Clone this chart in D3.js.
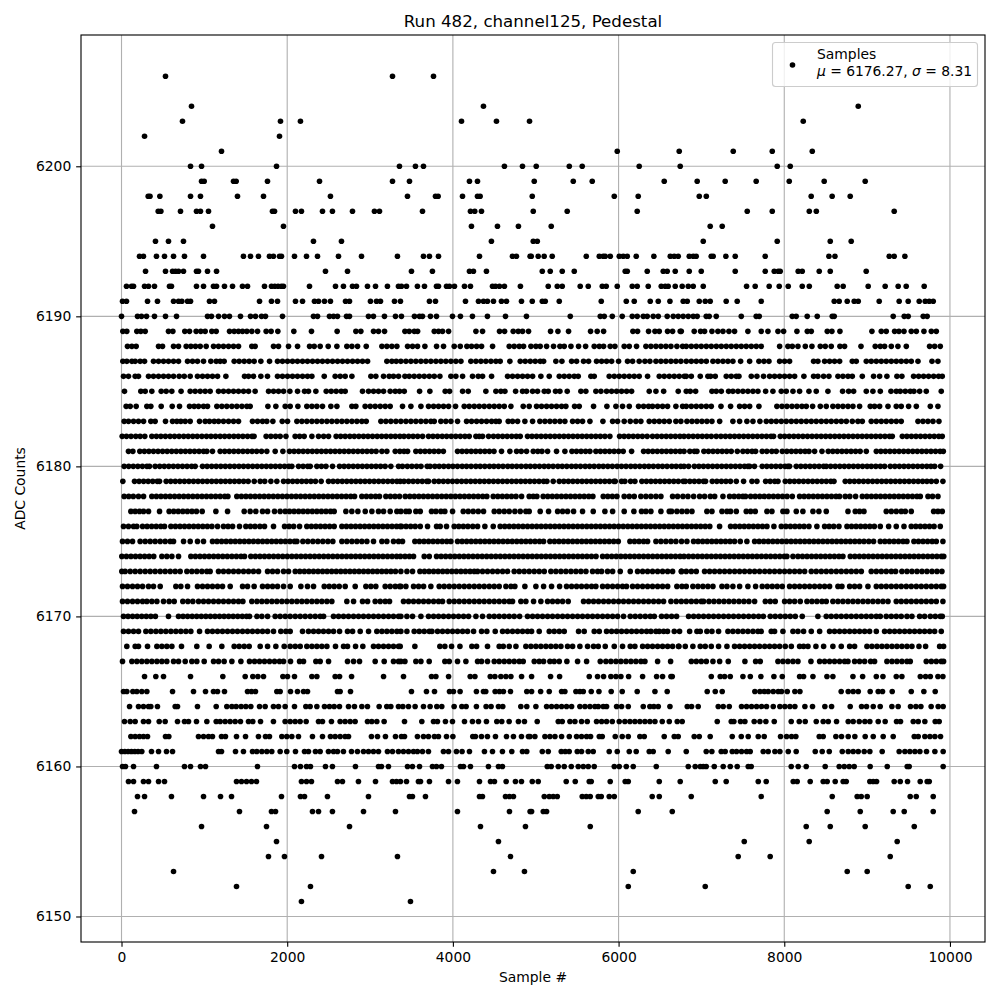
<!DOCTYPE html>
<html>
<head>
<meta charset="utf-8">
<title>Run 482, channel125, Pedestal</title>
<script src="https://cdn.jsdelivr.net/npm/d3@7"></script>
<style>
  body { margin: 0; background: #fff; }
  text { font-family: "DejaVu Sans", sans-serif; fill: #000; }
  .grid line { stroke: #b0b0b0; stroke-width: 1.11px; }
  .axis path { display: none; }
  .axis line { stroke: #000; stroke-width: 1.11px; }
  .axis text { font-size: 13.89px; font-family: "DejaVu Sans", sans-serif; fill: #000; }
</style>
</head>
<body>
<script>
/* CONSTANTS AND GLOBALS */
const width = 1000;
const height = 1000;
const margin = { top: 35, bottom: 58, left: 81, right: 15 };

const titleText = "Run 482, channel125, Pedestal";
const xLabel = "Sample #";
const yLabel = "ADC Counts";
const xTicks = [0, 2000, 4000, 6000, 8000, 10000];
const yTicks = [6150, 6160, 6170, 6180, 6190, 6200];

/* DATA - sample numbers, one list per ADC level */
const adc6206 = [531,3271,3766];
const adc6204 = [845,4369,8893];
const adc6203 = [736,1919,2160,4104,4526,4925,8229];
const adc6202 = [278,1907];
const adc6201 = [1207,5984,6732,7384,7855,8338];
const adc6200 = [833,966,1871,3355,3548,3645,4622,4840,5006,5405,5561,6249,6744,7915,8072];
const adc6199 = [966,998,1352,1384,1762,2390,3271,3476,4200,4297,4982,5453,5682,6551,6949,7287,7661,8060,8482,8977];
const adc6198 = [322,344,463,833,953,1400,1714,2522,3452,3790,3822,4116,4297,4329,4958,5948,6237,6974,7059,8325,8578,8796];
const adc6197 = [443,475,712,905,953,1050,1822,1847,2100,2172,2426,2546,2788,3053,3114,3633,4212,4264,4345,4970,5380,6225,7553,7855,8302,8387,9327];
const adc6196 = [1098,1955,4224,4538,4791,5187,7106,7251];
const adc6195 = [410,567,748,2317,2655,4465,4970,5019,7022,7915,8555,8808];
const adc6194 = [217,265,422,519,628,760,990,1472,1557,1653,1786,1834,1907,1931,2088,2233,2366,2619,2897,3331,3645,3717,3826,4321,4719,4767,4932,4946,5030,5102,5199,5610,5767,5815,5839,5900,6008,6056,6105,6213,6426,6624,6672,6720,6853,6901,6937,7118,7142,7295,7408,7770,8539,8612,9267,9327,9456];
const adc6193 = [290,531,616,652,688,748,905,929,1038,1147,2462,2728,3500,3753,4200,4248,4405,5079,5175,5320,5465,6080,6105,6346,6539,6587,6684,6853,6998,7408,7770,7879,7927,7951,8168,8217,8422,8555,8989];
const adc6192 = [60,121,145,278,326,398,579,603,905,990,1110,1147,1243,1340,1460,1521,1726,1810,1850,1890,1930,1955,2269,2583,2679,2788,2836,2969,3066,3210,3343,3379,3440,3572,3657,3802,3826,3923,3959,4019,4140,4212,4478,4514,4562,4622,4815,5151,5260,5320,5537,5634,5803,5851,5984,6165,6225,6358,6515,6563,6599,6684,6768,6841,6901,7022,7545,7649,7818,7939,8048,8217,8302,8639,8711,9013,9218,9375,9472,9689];
const adc6191 = [12,60,314,434,628,688,728,797,833,1062,1122,1666,1810,1883,2100,2185,2329,2378,2450,2522,2704,2752,3005,3078,3126,3295,3367,3717,3790,4152,4309,4369,4417,4490,4586,4647,4828,4958,5079,5115,5284,5791,6093,6189,6382,6479,6620,6780,6829,6974,7046,7106,7299,7432,7722,8603,8663,8760,8844,8893,9146,9387,9496,9629,9701,9750,9798];
const adc6190 = [0,193,241,302,398,531,664,1038,1086,1171,1243,1303,1436,1557,1617,1690,1738,1943,2317,2366,2510,2559,2607,2716,2752,2981,3041,3174,3307,3379,3536,3597,3633,3729,3802,3995,4091,4236,4417,4635,4888,5417,5779,5827,5924,6044,6165,6225,6298,6346,6418,6479,6587,6660,6720,6780,6841,6901,6949,7058,7094,7179,7481,7661,7698,8096,8144,8277,8398,8579,8603,9315,9448,9496,9677,9725];
const adc6189 = [16,64,185,233,286,567,620,764,821,901,957,1010,1090,1143,1304,1360,1412,1461,1513,1573,1642,1746,1806,1887,2080,2293,2603,2829,2889,3042,3102,3175,3421,3473,3534,3574,3775,3827,3875,3948,4278,4358,4563,4624,4728,4789,4841,4913,5179,5268,5396,5662,5742,5819,6173,6229,6362,6439,6491,6591,6652,6744,6757,6913,6990,7038,7127,7199,7260,7332,7400,7561,7722,7803,7924,7992,8153,8278,8326,8519,8575,8672,9058,9171,9231,9332,9384,9445,9533,9594,9686,9775,9835];
const adc6188 = [72,125,177,447,495,628,688,781,837,893,950,1022,1111,1171,1231,1292,1352,1412,1573,1613,1835,1895,2016,2125,2270,2326,2398,2495,2600,2720,2781,2849,2954,3143,3203,3263,3324,3453,3513,3573,3662,3803,3887,4016,4089,4169,4225,4286,4346,4479,4680,4740,4801,4853,4942,5002,5054,5131,5215,5292,5344,5425,5517,5602,5706,5767,5819,5899,5956,6068,6129,6217,6330,6390,6451,6511,6571,6632,6704,6773,6817,6878,6938,6998,7059,7119,7180,7240,7300,7360,7421,7481,7541,7602,7662,7722,7944,8044,8097,8165,8254,8334,8435,8495,8567,8672,8728,8926,9098,9159,9211,9292,9372,9473,9754,9815,9883];
const adc6187 = [16,64,125,165,225,278,386,447,507,567,628,688,797,857,917,990,1078,1143,1191,1239,1360,1420,1481,1541,1601,1682,1787,1883,1943,2004,2064,2124,2185,2245,2306,2366,2426,2487,2547,2608,2668,2728,2789,2849,2909,2970,3203,3263,3316,3372,3433,3493,3553,3614,3674,3734,3795,3855,3915,3976,4036,4097,4217,4278,4338,4398,4459,4519,4571,4688,4813,4873,4934,4994,5054,5095,5243,5316,5433,5493,5577,5638,5734,5795,5855,5916,6000,6108,6169,6249,6318,6378,6451,6511,6571,6632,6692,6752,6817,6878,6938,6998,7059,7139,7199,7260,7320,7380,7473,7582,7694,7755,7815,7944,8004,8064,8354,8406,8487,8547,8607,8668,8821,8869,8990,9050,9111,9171,9231,9292,9352,9412,9473,9533,9614,9783,9855];
const adc6186 = [24,84,165,205,326,386,447,507,567,628,696,757,829,917,978,1038,1098,1159,1260,1485,1533,1593,1682,1762,1883,1943,2004,2064,2124,2185,2245,2298,2447,2579,2640,2700,2781,3010,3070,3163,3231,3283,3344,3421,3473,3533,3594,3654,3715,3775,3843,3976,4036,4117,4237,4306,4358,4467,4660,4720,4781,4841,4901,4962,5062,5163,5284,5344,5404,5465,5513,5666,5706,5887,5948,6008,6068,6129,6189,6249,6350,6491,6551,6612,6672,6732,6793,6817,6878,6986,7078,7111,7167,7300,7360,7421,7453,7602,7670,7750,7823,7883,7944,8004,8064,8125,8237,8354,8406,8475,8539,8648,8708,8769,8821,8942,9078,9151,9239,9360,9420,9561,9622,9682,9742,9803,9863,9907];
const adc6185 = [36,233,286,366,479,539,607,719,829,889,950,1010,1070,1171,1231,1292,1352,1412,1473,1533,1613,1775,1835,1895,1956,2032,2125,2209,2257,2346,2471,2531,2591,2652,2700,2909,2982,3042,3102,3163,3243,3304,3356,3413,3598,3722,3907,3960,4117,4185,4398,4519,4579,4628,4757,4841,4889,4962,5022,5103,5151,5239,5292,5380,5545,5605,5726,5787,5855,5916,5976,6036,6097,6157,6370,6451,6544,6720,6817,6865,6930,7127,7179,7240,7328,7380,7441,7501,7561,7622,7682,7775,7863,7964,8024,8105,8185,8298,8386,8527,8704,8777,8837,8990,9070,9159,9288,9352,9400,9461,9521,9565,9634,9714,9895];
const adc6184 = [56,105,177,306,354,479,612,700,821,877,930,990,1038,1151,1211,1271,1332,1392,1453,1513,1553,1767,1863,1976,2036,2129,2237,2298,2358,2426,2527,2600,2781,2829,2941,3002,3062,3123,3183,3243,3392,3493,3614,3706,3767,3827,3887,3948,4032,4137,4197,4258,4318,4378,4439,4499,4559,4620,4700,4849,4921,5010,5070,5131,5191,5251,5312,5364,5469,5525,5698,5859,5968,6048,6129,6241,6302,6362,6410,6471,6531,6591,6692,6773,6817,6878,6938,6998,7059,7119,7236,7352,7461,7521,7582,7694,7911,7972,8032,8093,8153,8213,8266,8342,8435,8507,8587,8648,8708,8769,8829,8909,9038,9090,9151,9252,9352,9412,9501,9594,9763,9855];
const adc6183 = [32,84,145,205,266,354,406,531,616,668,716,769,829,942,1010,1062,1119,1171,1231,1292,1352,1412,1581,1642,1702,1754,1827,1940,2004,2117,2177,2237,2298,2358,2418,2479,2539,2600,2660,2720,2781,2841,2901,2954,3131,3191,3251,3312,3372,3433,3493,3553,3614,3674,3734,3775,3855,3915,3976,4056,4165,4225,4286,4346,4406,4467,4519,4559,4668,4720,4781,4869,4962,5050,5111,5171,5231,5292,5352,5445,5505,5565,5654,5811,5928,5988,6068,6141,6209,6269,6370,6431,6491,6551,6612,6692,6752,6825,6886,6946,7006,7066,7127,7220,7380,7461,7549,7622,7706,7783,7843,7903,7964,8024,8085,8145,8205,8266,8326,8386,8447,8507,8567,8628,8688,8749,8821,8889,8942,9050,9111,9171,9231,9292,9352,9412,9614,9674,9734,9795,9867];
const adc6182 = [8,60,115,172,225,281,366,421,475,530,586,640,695,751,805,860,914,970,1026,1080,1135,1191,1245,1300,1356,1410,1465,1521,1575,1600,1746,1803,1860,1915,1985,2096,2150,2205,2298,2378,2440,2499,2591,2645,2700,2756,2810,2865,2921,2975,3030,3086,3140,3195,3251,3305,3360,3410,3466,3520,3575,3634,3706,3760,3815,3871,3925,3980,4035,4090,4145,4197,4278,4318,4358,4431,4490,4545,4600,4655,4710,4765,4813,4901,4955,5010,5065,5120,5175,5230,5285,5340,5395,5450,5505,5560,5615,5670,5725,5780,5835,5895,6012,6067,6122,6177,6232,6287,6345,6410,6465,6520,6575,6630,6685,6740,6790,6845,6900,6955,7010,7065,7119,7179,7235,7290,7345,7400,7455,7510,7565,7620,7675,7730,7785,7840,7871,7952,8005,8060,8115,8170,8225,8280,8335,8390,8445,8500,8555,8610,8665,8720,8775,8830,8885,8940,8995,9050,9105,9160,9215,9270,9304,9425,9480,9535,9590,9645,9700,9755,9810,9865,9907];
const adc6181 = [84,137,221,276,331,386,441,496,551,606,661,716,771,826,881,936,990,1030,1098,1191,1246,1301,1356,1411,1466,1521,1576,1631,1690,1754,1855,1948,2028,2083,2138,2193,2248,2303,2358,2413,2468,2523,2578,2633,2688,2743,2798,2853,2908,2963,3018,3073,3143,3203,3304,3360,3410,3453,3553,3608,3663,3718,3773,3828,3885,4056,4111,4166,4221,4276,4331,4386,4441,4496,4587,4688,4769,4825,4889,4970,5025,5075,5143,5251,5352,5437,5492,5547,5602,5654,5726,5781,5836,5891,5946,6001,6056,6157,6302,6357,6412,6467,6522,6577,6632,6687,6742,6790,6860,6915,6946,7030,7085,7140,7195,7250,7305,7360,7433,7501,7556,7611,7654,7734,7789,7850,7903,7976,8031,8086,8141,8196,8251,8298,8366,8455,8531,8586,8641,8696,8751,8806,8861,8916,8990,9111,9166,9221,9276,9331,9386,9441,9496,9551,9606,9661,9716,9771,9826,9881,9920];
const adc6180 = [32,87,142,197,252,307,338,406,461,516,571,626,681,736,791,846,889,978,1033,1088,1143,1198,1253,1308,1363,1418,1473,1528,1583,1638,1693,1748,1803,1858,1913,1968,2020,2056,2137,2192,2247,2278,2358,2413,2468,2547,2632,2687,2742,2797,2852,2907,2962,3017,3072,3127,3182,3251,3344,3391,3450,3505,3562,3615,3690,3725,3782,3835,3890,3947,4000,4055,4112,4165,4220,4277,4330,4385,4442,4495,4550,4605,4662,4715,4770,4825,4882,4935,4990,5045,5102,5155,5210,5267,5320,5375,5432,5485,5540,5597,5650,5705,5762,5815,5870,5925,5982,6035,6090,6147,6200,6255,6312,6365,6420,6477,6530,6585,6642,6695,6750,6790,6845,6915,6970,7025,7080,7135,7190,7245,7300,7355,7410,7465,7520,7561,7582,7640,7734,7789,7844,7899,7954,8009,8044,8064,8145,8200,8255,8310,8365,8420,8475,8507,8560,8615,8670,8725,8780,8835,8890,8945,9000,9050,9105,9160,9211,9280,9335,9390,9445,9500,9555,9610,9665,9720,9770,9815,9887];
const adc6179 = [16,157,212,267,322,377,432,459,539,594,649,704,759,814,869,924,979,1034,1089,1144,1199,1254,1309,1364,1419,1474,1529,1602,1674,1729,1803,1875,1956,2011,2066,2121,2176,2231,2286,2341,2410,2499,2554,2609,2664,2719,2774,2829,2884,2939,2994,3049,3104,3159,3214,3269,3324,3364,3410,3465,3520,3575,3630,3685,3706,3775,3830,3885,3940,3995,4050,4105,4160,4215,4270,4325,4380,4435,4490,4545,4600,4655,4710,4765,4820,4875,4930,4985,5040,5095,5135,5211,5284,5339,5394,5449,5504,5559,5614,5669,5724,5779,5834,5889,5944,5960,6036,6076,6145,6197,6281,6336,6391,6446,6501,6556,6611,6666,6721,6780,6805,6860,6915,6970,7025,7050,7131,7186,7241,7296,7351,7421,7509,7610,7670,7775,7830,7885,7924,8012,8067,8122,8177,8232,8287,8342,8397,8452,8507,8562,8600,8736,8791,8846,8901,8956,9011,9066,9121,9176,9231,9286,9341,9396,9451,9506,9561,9616,9670,9722,9775,9835,9915];
const adc6178 = [32,87,142,205,266,366,421,476,531,586,641,696,751,806,861,916,971,1026,1081,1136,1191,1246,1284,1392,1447,1502,1557,1612,1667,1722,1777,1832,1887,1942,1997,2052,2107,2162,2217,2272,2327,2382,2437,2492,2547,2602,2657,2712,2767,2813,2901,2956,3011,3066,3114,3191,3246,3301,3356,3425,3480,3535,3590,3645,3700,3755,3810,3865,3920,3975,4030,4085,4140,4195,4250,4305,4360,4410,4487,4542,4597,4652,4707,4762,4829,4921,4970,5014,5090,5145,5200,5255,5310,5365,5420,5475,5530,5585,5640,5690,5815,5870,5925,5980,6068,6129,6189,6269,6330,6390,6451,6511,6652,6712,6777,6837,6906,6978,7038,7107,7160,7260,7340,7395,7450,7500,7533,7594,7649,7704,7759,7814,7869,7924,7979,8034,8097,8185,8240,8295,8350,8405,8460,8515,8570,8625,8668,8736,8791,8861,8942,8997,9052,9107,9162,9217,9272,9327,9382,9437,9492,9547,9602,9642,9735,9790,9855];
const adc6177 = [113,165,217,266,326,459,575,630,685,740,795,850,905,974,1139,1280,1481,1553,1621,1702,1763,1847,1915,1976,2028,2083,2138,2193,2248,2303,2358,2413,2468,2523,2567,2708,2780,2853,2942,3022,3102,3163,3243,3324,3372,3433,3473,3553,3606,3742,3795,3855,3903,3996,4125,4185,4245,4306,4370,4499,4559,4620,4680,4748,4813,4881,4921,5054,5155,5264,5324,5384,5457,5565,5694,5835,5928,6068,6185,6277,6330,6390,6511,6612,6640,6704,6765,6825,6886,7066,7127,7248,7308,7352,7421,7541,7594,7650,7791,7851,7984,8032,8145,8225,8346,8418,8507,8769,8857,8909,8962,9231,9292,9352,9412,9461,9533,9803,9855,9907];
const adc6176 = [24,84,145,185,254,309,364,419,474,519,596,651,706,761,816,871,926,981,1036,1091,1159,1231,1286,1341,1424,1501,1556,1611,1670,1726,1835,1968,2023,2078,2149,2237,2292,2347,2402,2457,2512,2567,2660,2715,2770,2825,2880,2935,2990,3045,3100,3155,3210,3265,3320,3364,3380,3435,3490,3545,3606,3694,3803,3847,3923,4016,4071,4126,4181,4240,4298,4386,4487,4571,4626,4681,4736,4791,4846,4901,4956,5011,5066,5121,5176,5231,5286,5341,5396,5451,5506,5561,5616,5671,5726,5781,5836,5891,5946,6001,6056,6111,6166,6221,6276,6331,6386,6441,6496,6551,6606,6661,6716,6771,6826,6881,6936,6991,7046,7101,7219,7352,7407,7462,7517,7572,7627,7682,7737,7791,7875,7964,8019,8074,8129,8184,8239,8298,8394,8487,8542,8597,8660,8757,8812,8867,8922,8977,9032,9087,9159,9260,9352,9445,9533,9588,9643,9698,9753,9808,9883];
const adc6175 = [12,72,133,225,286,346,406,467,527,588,628,749,829,917,990,1098,1153,1208,1263,1318,1373,1428,1483,1538,1593,1648,1703,1758,1813,1868,1923,1978,2033,2088,2117,2189,2249,2310,2370,2430,2491,2551,2660,2720,2781,2841,2901,2962,3042,3143,3203,3283,3344,3392,3541,3596,3651,3706,3761,3816,3871,3926,3976,4056,4111,4166,4221,4276,4331,4386,4441,4496,4551,4606,4661,4716,4771,4826,4881,4936,4991,5046,5095,5171,5226,5281,5336,5391,5446,5501,5556,5611,5666,5721,5776,5831,5886,5941,5996,6137,6192,6247,6302,6350,6451,6511,6571,6632,6692,6760,6825,6905,6960,7015,7070,7125,7180,7235,7290,7345,7400,7469,7549,7642,7697,7752,7807,7862,7917,7972,8027,8082,8137,8192,8247,8302,8357,8412,8467,8522,8577,8632,8687,8742,8797,8852,8907,8962,9020,9078,9159,9214,9269,9324,9379,9434,9481,9565,9620,9675,9730,9785,9835,9915];
const adc6174 = [4,59,114,169,224,279,334,389,487,547,608,688,837,892,947,1002,1057,1112,1167,1222,1277,1332,1387,1442,1485,1561,1616,1671,1726,1781,1836,1891,1946,2001,2056,2111,2166,2221,2276,2331,2386,2441,2496,2551,2606,2661,2716,2771,2826,2881,2936,2991,3046,3101,3156,3211,3266,3321,3367,3422,3475,3525,3654,3715,3803,3858,3913,3968,4023,4078,4133,4188,4243,4298,4353,4408,4463,4518,4573,4628,4683,4738,4793,4848,4903,4958,5013,5068,5123,5178,5233,5288,5343,5398,5453,5508,5563,5618,5673,5728,5807,5862,5917,5972,6027,6082,6137,6192,6247,6302,6357,6412,6467,6522,6577,6632,6687,6742,6790,6845,6900,6955,7010,7065,7120,7175,7230,7285,7340,7395,7450,7505,7560,7615,7670,7725,7780,7835,7890,7945,8000,8032,8105,8165,8220,8275,8330,8385,8440,8495,8550,8605,8660,8708,8797,8852,8907,8962,9017,9072,9127,9182,9237,9292,9347,9402,9457,9512,9567,9622,9677,9732,9787,9842,9897,9925];
const adc6173 = [4,44,105,165,225,286,346,406,467,527,588,648,708,789,849,909,970,1030,1070,1171,1231,1292,1352,1412,1473,1533,1593,1654,1763,1823,1883,1956,2016,2097,2152,2207,2262,2317,2372,2427,2482,2537,2592,2647,2702,2757,2812,2867,2922,2977,3032,3087,3142,3197,3252,3307,3372,3445,3513,3602,3657,3712,3767,3822,3877,3932,3987,4042,4097,4152,4207,4258,4298,4358,4418,4479,4539,4600,4660,4740,4801,4861,4921,4982,5042,5103,5183,5243,5304,5364,5425,5485,5545,5606,5686,5746,5795,5867,5928,6020,6141,6229,6290,6350,6410,6471,6531,6592,6652,6760,6757,6817,6878,6938,7038,7099,7159,7220,7280,7340,7401,7461,7521,7582,7642,7702,7763,7823,7883,7944,8004,8064,8125,8185,8246,8326,8386,8447,8507,8567,8628,8688,8749,8809,8869,8930,9050,9111,9171,9231,9292,9344,9420,9481,9541,9602,9662,9722,9783,9843,9903];
const adc6172 = [12,72,133,193,254,326,386,467,656,716,797,917,978,1038,1098,1159,1219,1312,1461,1521,1601,1702,1763,1823,1883,1956,2036,2165,2245,2318,2447,2507,2567,2628,2700,2821,2950,3010,3070,3183,3243,3304,3356,3372,3433,3525,3586,3646,3734,3835,3895,3956,4016,4076,4137,4197,4258,4318,4378,4439,4499,4559,4640,4700,4748,4869,5002,5095,5191,5288,5372,5433,5493,5553,5614,5674,5726,5807,5867,5928,5988,6048,6096,6169,6229,6290,6350,6410,6471,6531,6592,6704,6765,6817,6897,6958,7018,7078,7139,7248,7308,7380,7461,7561,7654,7734,7795,7855,7915,7976,8064,8125,8185,8246,8306,8366,8427,8487,8547,8648,8696,8789,8849,8909,9010,9111,9171,9231,9292,9352,9412,9473,9533,9594,9654,9714,9775,9835,9895,9923];
const adc6171 = [12,72,133,193,254,306,366,427,507,575,636,740,801,861,930,990,1050,1111,1171,1231,1292,1352,1412,1465,1573,1634,1694,1754,1815,1875,1936,1996,2056,2117,2177,2237,2298,2358,2418,2479,2539,2720,2801,2909,2970,3062,3123,3183,3235,3404,3465,3525,3586,3646,3706,3767,3827,3875,3956,4016,4076,4137,4197,4258,4318,4378,4439,4499,4559,4620,4680,4720,4821,4881,4974,5062,5143,5203,5264,5324,5392,5577,5638,5698,5758,5819,5879,5940,6000,6060,6121,6181,6241,6302,6362,6423,6483,6543,6632,6696,6757,6817,6878,6938,6998,7026,7091,7151,7212,7272,7332,7392,7453,7513,7573,7642,7771,7831,7891,8004,8064,8125,8193,8274,8334,8394,8455,8507,8587,8648,8708,8769,8829,8889,8950,9010,9070,9131,9191,9252,9352,9412,9473,9533,9594,9654,9714,9775,9835,9915];
const adc6170 = [24,79,134,189,244,299,354,409,567,688,743,798,853,908,963,1018,1073,1128,1183,1238,1293,1348,1403,1458,1510,1545,1634,1694,1763,1855,1915,1976,2036,2097,2157,2217,2278,2338,2398,2439,2559,2620,2680,2740,2801,2861,2921,2982,3042,3102,3163,3223,3283,3344,3372,3445,3513,3614,3706,3767,3827,3887,3948,4008,4068,4129,4189,4278,4358,4439,4499,4559,4620,4680,4740,4805,4901,4962,5022,5082,5143,5203,5264,5324,5384,5445,5505,5565,5626,5686,5746,5807,5867,5928,5988,6060,6141,6201,6261,6322,6382,6431,6519,6579,6640,6700,6845,6906,6966,7026,7087,7147,7207,7268,7328,7388,7449,7509,7570,7630,7690,7747,7831,7891,7952,8012,8072,8133,8217,8406,8507,8567,8628,8688,8749,8809,8869,8930,8990,9050,9111,9159,9231,9292,9352,9412,9481,9541,9634,9694,9763,9823,9883,9907];
const adc6169 = [24,84,145,205,294,354,415,475,535,596,656,716,777,837,942,1038,1098,1159,1219,1280,1340,1400,1461,1521,1581,1642,1702,1763,1835,1923,1984,2036,2185,2257,2318,2378,2438,2499,2559,2632,2728,2789,2881,2982,3082,3143,3203,3263,3324,3372,3445,3533,3594,3654,3715,3747,3815,3875,3936,3996,4056,4117,4177,4250,4346,4410,4511,4600,4660,4720,4781,4841,4901,4950,5042,5163,5223,5284,5344,5517,5585,5706,5767,5855,5916,5976,6036,6097,6157,6217,6278,6338,6390,6451,6491,6544,6591,6672,6736,6858,6946,6986,7066,7127,7207,7320,7380,7441,7501,7561,7622,7682,7722,7843,7883,7984,8105,8165,8233,8326,8427,8547,8607,8668,8728,8789,8849,8909,8970,9030,9111,9211,9272,9332,9392,9453,9513,9573,9634,9694,9755,9815,9895];
const adc6168 = [64,165,205,314,427,487,547,608,724,909,1058,1211,1360,1420,1481,1541,1674,1763,1863,1964,2036,2097,2157,2237,2298,2358,2418,2479,2583,2680,2728,2825,2913,3042,3102,3163,3223,3283,3344,3364,3541,3843,3903,3984,4085,4229,4286,4418,4559,4608,4680,4761,4881,4942,5002,5062,5123,5183,5243,5304,5384,5445,5533,5626,5698,5755,5839,5948,6048,6141,6197,6290,6350,6410,6471,6531,6592,6652,6724,6728,6805,6897,6986,7046,7119,7207,7308,7400,7461,7521,7582,7642,7702,7763,7823,7883,7944,8012,8085,8185,8233,8286,8382,8475,8587,8688,8789,8849,8998,9058,9119,9179,9239,9300,9360,9420,9481,9541,9626,9706,9875,9923];
const adc6167 = [12,125,185,245,306,366,427,487,547,628,688,769,849,909,998,1111,1171,1239,1332,1441,1545,1606,1666,1726,1787,1847,1907,1956,2040,2149,2197,2346,2398,2499,2728,2801,2873,3062,3171,3283,3344,3372,3421,3553,3614,3714,3903,3956,4056,4157,4298,4346,4418,4499,4559,4620,4680,4740,4801,4849,4982,5042,5095,5171,5223,5284,5376,5505,5614,5779,5847,5907,5968,6028,6089,6149,6209,6270,6318,6471,6628,6878,6938,6998,7059,7139,7220,7324,7525,7654,7710,7924,7984,8044,8105,8165,8322,8427,8487,8547,8607,8668,8728,8769,8849,8909,8970,9042,9090,9239,9300,9360,9420,9481,9521,9714,9775,9835,9895,9923];
const adc6166 = [278,414,507,833,1223,1493,1585,1646,1714,1948,2004,2088,2298,2358,2579,2632,2777,3163,3404,3742,3795,3948,4209,4266,4451,4507,4579,4640,4700,4829,4950,5179,5288,5646,5746,5819,5907,5968,6028,6121,6290,6459,6531,6632,6648,7119,7227,7280,7348,7501,7590,7718,7875,7976,8185,8233,8346,8515,8587,8829,8946,9111,9191,9352,9420,9642,9706,9763,9855,9915];
const adc6165 = [24,64,137,185,245,306,616,869,1014,1110,1159,1243,1521,1569,1617,1875,1915,2040,2124,2197,2245,2607,2639,2764,3500,3681,3778,3959,4007,4087,4284,4369,4397,4510,4562,4610,4695,4892,4950,5059,5163,5312,5352,5485,5533,5574,5670,5763,5911,6044,6225,6439,6587,7070,7167,7251,7645,7706,7758,7806,7867,7927,7967,8036,8128,8189,8687,8772,8832,8893,9037,9134,9186,9303,9533,9685,9822];
const adc6164 = [97,205,265,326,354,434,648,676,917,1143,1271,1332,1384,1444,1501,1561,1666,1734,1834,1895,1975,2088,2225,2277,2358,2450,2510,2567,2631,2740,2812,2901,2969,3110,3202,3251,3343,3396,3464,3544,3645,3725,3806,3866,4015,4108,4160,4284,4401,4461,4550,4602,4820,4892,5002,5131,5191,5252,5312,5372,5433,5533,5594,5654,5714,5755,5815,5855,5976,6036,6117,6298,6378,6426,6479,6620,6829,6881,6961,7203,7263,7336,7484,7545,7605,7666,7726,7786,7867,7947,8007,8068,8128,8249,8341,8490,8571,8796,8933,8993,9074,9158,9299,9375,9524,9589,9649,9773,9858,9918];
const adc6163 = [36,105,165,265,326,455,527,676,760,809,905,1030,1143,1191,1251,1311,1372,1436,1533,1585,1678,1834,1975,2036,2096,2156,2229,2378,2426,2534,2639,2699,2760,2820,2969,3021,3082,3170,3416,3625,3766,3814,3910,3995,4140,4236,4309,4405,4530,4590,4679,4791,4864,5018,5272,5320,5413,5473,5553,5622,5734,5795,5855,5924,6008,6076,6137,6197,6257,6318,6378,6439,6527,6612,6708,6768,7191,7360,7392,7472,7525,7637,7706,7778,7879,8084,8181,8253,8386,8470,8531,8631,8772,8832,8905,8973,9033,9134,9218,9355,9403,9557,9617,9697,9822,9870];
const adc6162 = [113,165,217,265,314,531,571,929,990,1050,1098,1207,1255,1388,1497,1653,1738,1786,1935,1995,2056,2136,2305,2426,2522,2579,2639,2699,2740,3017,3090,3186,3307,3379,3416,3572,3645,3705,3777,3826,3923,4000,4240,4272,4345,4417,4514,4647,4731,4828,4912,4930,4990,5111,5171,5232,5312,5405,5493,5553,5614,5662,5767,5803,5960,6044,6117,6257,6310,6551,6672,6720,6913,6974,7106,7372,7481,7565,7686,7758,7955,8028,8088,8140,8422,8470,8623,8691,8772,8852,8977,9074,9194,9315,9569,9617,9697,9758,9818,9886];
const adc6161 = [0,40,80,120,160,200,245,362,447,543,616,1171,1207,1376,1472,1581,1633,1694,1754,1814,1915,1995,2100,2209,2257,2341,2398,2498,2559,2607,2679,2776,2848,2921,2981,3041,3102,3210,3271,3343,3403,3464,3524,3572,3633,3705,3886,3947,4043,4111,4200,4381,4478,4598,4711,4840,4892,5079,5151,5308,5356,5404,5501,5553,5634,5694,5887,5984,6129,6213,6370,6418,6599,6817,7058,7126,7239,7287,7372,7424,7484,7545,7589,7746,7806,7887,7947,8048,8144,8374,8458,8543,8700,8772,8832,8893,8965,9033,9182,9387,9456,9516,9577,9637,9717,9818,9918];
const adc6160 = [12,48,145,422,760,833,953,1014,1641,2088,2160,2233,2281,2462,2546,2824,3102,3138,3222,3452,3512,3597,3753,3802,3862,4091,4128,4212,4429,4550,4598,5139,5187,5272,5344,5429,5513,5574,5634,5706,5948,6008,6093,6177,6455,6841,6925,6986,7022,7058,7155,7263,7348,7432,7565,7601,8084,8168,8265,8494,8663,8724,8784,8844,9037,9243,9484,9508,9918];
const adc6159 = [84,145,265,326,447,519,1388,1448,1509,1569,1629,2172,2233,2293,2607,2667,2860,3066,3271,3319,3367,3440,3584,3609,3717,3947,4055,4321,4454,4502,4643,4755,4828,4958,5030,5368,5477,5646,5670,5899,6080,6117,6491,6744,7167,7299,7686,7782,8108,8156,8313,8470,8518,8615,8711,8748,9033,9074,9114,9327,9400,9488,9641,9725,9750];
const adc6158 = [193,278,603,990,1195,1328,1931,2160,2209,2486,2981,3476,3512,3669,4321,4357,4635,4683,4731,5103,5163,5211,5260,5561,5610,5658,5755,5791,5887,5948,6406,6491,6877,7722,8579,8880,8929,9001,9520,9593,9798];
const adc6157 = [157,1424,1810,1859,2305,2378,2546,2921,3307,4055,4683,4932,4950,5091,5131,6237,6648,8518,8917,9315,9448,9798];
const adc6156 = [966,1750,2752,4333,4876,5658,8265,8555,8977,9569];
const adc6155 = [1871,4550,7517,8301,9363];
const adc6154 = [1774,1967,2414,3331,4695,7444,7830,9279];
const adc6153 = [628,4490,4864,6177,8760,9001];
const adc6152 = [1388,2281,6117,7046,9496,9762];
const adc6151 = [2172,3488];

const levels = [6206,6204,6203,6202,6201,6200,6199,6198,6197,6196,6195,6194,6193,6192,6191,6190,6189,6188,6187,6186,6185,6184,6183,6182,6181,6180,6179,6178,6177,6176,6175,6174,6173,6172,6171,6170,6169,6168,6167,6166,6165,6164,6163,6162,6161,6160,6159,6158,6157,6156,6155,6154,6153,6152,6151];
const sampleLists = [adc6206,adc6204,adc6203,adc6202,adc6201,adc6200,adc6199,adc6198,adc6197,adc6196,adc6195,adc6194,adc6193,adc6192,adc6191,adc6190,adc6189,adc6188,adc6187,adc6186,adc6185,adc6184,adc6183,adc6182,adc6181,adc6180,adc6179,adc6178,adc6177,adc6176,adc6175,adc6174,adc6173,adc6172,adc6171,adc6170,adc6169,adc6168,adc6167,adc6166,adc6165,adc6164,adc6163,adc6162,adc6161,adc6160,adc6159,adc6158,adc6157,adc6156,adc6155,adc6154,adc6153,adc6152,adc6151];

// one row per dot
const data = levels.flatMap((adc, i) => sampleLists[i].map(sample => ({ sample, adc })));

/* SCALES */
const x = d3.scaleLinear()
    .domain([-489, 10423])
    .range([margin.left, width - margin.right]);

const y = d3.scaleLinear()
    .domain([6148.3, 6208.75])
    .range([height - margin.bottom, margin.top]);

/* CREATE SVG */
const svg = d3.select("body").append("svg")
    .attr("width", width)
    .attr("height", height)
    .style("display", "block");

/* GRID */
svg.append("g")
    .attr("class", "grid")
    .selectAll("line")
    .data(xTicks)
    .join("line")
    .attr("x1", d => x(d))
    .attr("x2", d => x(d))
    .attr("y1", margin.top)
    .attr("y2", height - margin.bottom);

svg.append("g")
    .attr("class", "grid")
    .selectAll("line")
    .data(yTicks)
    .join("line")
    .attr("x1", margin.left)
    .attr("x2", width - margin.right)
    .attr("y1", d => y(d))
    .attr("y2", d => y(d));

/* DOTS */
svg.append("g")
    .selectAll("circle")
    .data(data)
    .join("circle")
    .attr("cx", d => x(d.sample))
    .attr("cy", d => y(d.adc))
    .attr("r", 2.8)
    .attr("fill", "#000");

/* AXES */
svg.append("g")
    .attr("class", "axis")
    .attr("transform", "translate(0," + (height - margin.bottom) + ")")
    .call(d3.axisBottom(x).tickValues(xTicks).tickFormat(d3.format("d")).tickSize(4.86).tickPadding(4.86));

svg.append("g")
    .attr("class", "axis")
    .attr("transform", "translate(" + margin.left + ",0)")
    .call(d3.axisLeft(y).tickValues(yTicks).tickFormat(d3.format("d")).tickSize(4.86).tickPadding(4.86));

// plot frame
svg.append("rect")
    .attr("x", margin.left)
    .attr("y", margin.top)
    .attr("width", width - margin.left - margin.right)
    .attr("height", height - margin.top - margin.bottom)
    .attr("fill", "none")
    .attr("stroke", "#000")
    .attr("stroke-width", 1.11);

/* LABELS */
svg.append("text")
    .attr("x", (margin.left + width - margin.right) / 2)
    .attr("y", 27)
    .attr("text-anchor", "middle")
    .style("font-size", "16.67px")
    .text(titleText);

svg.append("text")
    .attr("x", (margin.left + width - margin.right) / 2)
    .attr("y", 982)
    .attr("text-anchor", "middle")
    .style("font-size", "13.89px")
    .text(xLabel);

svg.append("text")
    .attr("transform", "translate(25," + (height - margin.bottom + margin.top) / 2 + ") rotate(-90)")
    .attr("text-anchor", "middle")
    .style("font-size", "13.89px")
    .text(yLabel);

/* LEGEND */
const legend = svg.append("g");

legend.append("rect")
    .attr("x", 772.5)
    .attr("y", 42.5)
    .attr("width", 205)
    .attr("height", 44)
    .attr("rx", 3)
    .attr("fill", "#fff")
    .attr("fill-opacity", 0.8)
    .attr("stroke", "#ccc")
    .attr("stroke-width", 1.11);

legend.append("circle")
    .attr("cx", 792.5)
    .attr("cy", 65)
    .attr("r", 2.8)
    .attr("fill", "#000");

legend.append("text")
    .attr("x", 817)
    .attr("y", 59)
    .style("font-size", "13.89px")
    .text("Samples");

const statsLine = legend.append("text")
    .attr("x", 817)
    .attr("y", 76)
    .attr("textLength", 155)
    .style("font-size", "13.89px");

statsLine.append("tspan").style("font-style", "italic").text("μ");
statsLine.append("tspan").text(" = 6176.27, ");
statsLine.append("tspan").style("font-style", "italic").text("σ");
statsLine.append("tspan").text(" = 8.31");
</script>
</body>
</html>
